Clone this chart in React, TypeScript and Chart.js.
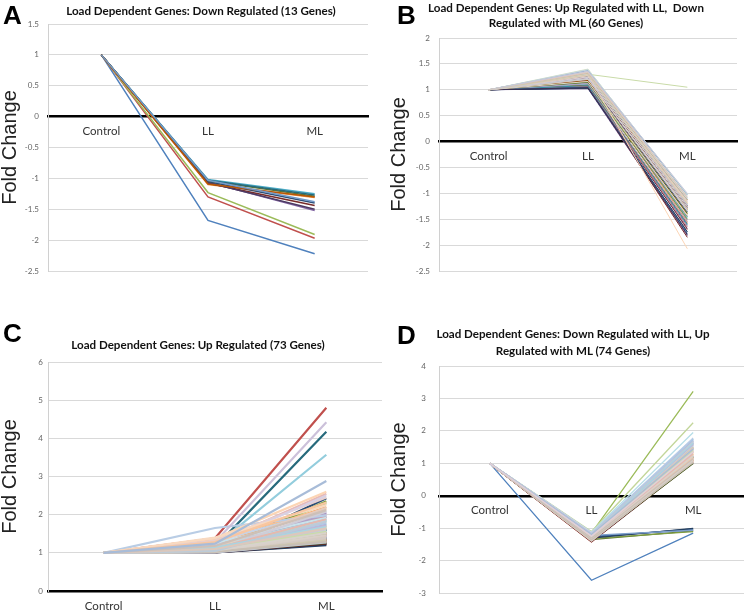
import React, { useEffect, useRef } from "react";
import { Chart, registerables } from "chart.js";

Chart.register(...registerables);

// ---------- data ----------
const categories = ["Control", "LL", "ML"];
const controlValue = 1;

// Panel A: Down Regulated (13 genes)
const aLL = [-1.68, -1.3, -1.23, -1.06, -1.02, -1.1, -1.05, -1.08, -1.04, -1.07, -1.03, -1.09, -1.03];
const aML = [-2.22, -1.97, -1.91, -1.52, -1.25, -1.31, -1.4, -1.44, -1.29, -1.5, -1.27, -1.3, -1.38];
const aRange = [-2.5, 1.5, 0.5];

// Panel B: Up with LL, Down with ML (60 genes)
const bLL = [1.05, 1.12, 1.08, 1.02, 1.15, 1.2, 1.03, 1.06, 1.1, 1.04, 1.18, 1.09, 1.13, 1.07, 1.22, 1.25, 1.11, 1.16, 1.05, 1.28, 1.14, 1.19, 1.08, 1.24, 1.32, 1.17, 1.21, 1.12, 1.27, 1.35, 1.03, 1.23, 1.15, 1.04, 1.26, 1.18, 1.38, 1.29, 1.3, 1.33, 1.36, 1.3, 1.31, 1.25, 1.4, 1.22, 1.34, 1.28, 1.37, 1.16, 1.32, 1.24, 1.39, 1.27, 1.35, 1.21, 1.33, 1.29, 1.36, 1.2];
const bML = [-1.62, -1.7, -1.38, -1.82, -1.48, -1.55, -1.75, -1.85, -1.32, -1.68, -1.45, -1.58, -1.28, -1.65, -1.42, -1.52, -1.35, -1.4, -1.78, -1.25, -1.5, -1.36, -1.6, -1.3, -1.22, -1.44, -1.33, -1.56, -1.2, -1.18, -1.74, -1.27, -1.39, -1.8, -1.24, -1.12, -1.1, -1.21, 1.05, -1.14, -1.08, -2.07, -1.17, -1.26, -1.05, -1.34, -1.11, -1.19, -1.03, -1.43, -1.13, -1.23, -1.02, -1.16, -1.07, -1.29, -1.09, -1.2, -1.0, -1.31];
const bRange = [-2.5, 2, 0.5];

// Panel C: Up Regulated (73 genes)
const cLL = [1.05, 1.38, 1.08, 1.02, 1.1, 1.12, 1.04, 1.01, 1.03, 1.02, 1.15, 1.06, 1.09, 1.07, 1.11, 1.05, 1.13, 1.2, 1.03, 1.02, 1.06, 1.04, 1.08, 1.1, 1.12, 1.22, 1.14, 1.16, 1.18, 1.35, 1.01, 1.02, 1.03, 1.05, 1.04, 1.07, 1.65, 1.25, 1.15, 1.28, 1.2, 1.38, 1.3, 1.32, 1.18, 1.22, 1.26, 1.4, 1.03, 1.02, 1.05, 1.08, 1.06, 1.15, 1.02, 1.01, 1.04, 1.03, 1.05, 1.07, 1.1, 1.12, 1.09, 1.08, 1.14, 1.28, 1.04, 1.03, 1.06, 1.05, 1.1, 1.18, 1.24];
const cML = [1.55, 4.8, 1.62, 1.3, 1.85, 1.7, 2.43, 1.22, 1.35, 1.25, 4.17, 1.28, 1.95, 1.45, 2.3, 2.05, 1.75, 2.2, 1.4, 1.32, 2.35, 1.48, 1.6, 1.52, 1.9, 1.95, 1.65, 2.0, 3.57, 2.15, 1.2, 1.24, 1.26, 1.38, 1.6, 1.34, 1.98, 2.55, 1.8, 4.42, 1.85, 2.6, 2.1, 2.45, 1.7, 2.5, 1.92, 2.25, 1.42, 1.3, 1.5, 2.08, 1.58, 2.18, 1.36, 1.27, 1.44, 1.33, 1.62, 1.4, 1.78, 1.88, 1.55, 1.72, 1.68, 2.32, 1.46, 1.29, 1.52, 1.82, 1.64, 2.12, 2.88];
const cRange = [0, 6, 1];

// Panel D: Down with LL, Up with ML (74 genes)
const dLL = [-2.6, -1.42, -1.15, -1.2, -1.18, -1.25, -1.28, -1.4, -1.35, -1.3, -1.22, -1.38, -1.16, -1.26, -1.2, -1.14, -1.17, -1.24, -1.25, -1.36, -1.32, -1.18, -1.21, -1.33, -1.13, -1.27, -1.1, -1.15, -1.19, -1.23, -1.3, -1.41, -1.37, -1.29, -1.24, -1.39, -1.14, -1.22, -1.26, -1.16, -1.12, -1.2, -1.13, -1.18, -1.28, -1.15, -1.21, -1.24, -1.22, -1.34, -1.31, -1.17, -1.19, -1.27, -1.33, -1.38, -1.36, -1.25, -1.23, -1.4, -1.16, -1.26, -1.2, -1.18, -1.21, -1.29, -1.32, -1.35, -1.28, -1.17, -1.22, -1.3, -1.19, -1.24];
const dML = [-1.15, 1.1, 3.22, 1.55, 1.65, 1.3, -1.02, 1.05, -1.08, 1.45, 1.2, 1.12, 1.7, 1.35, 1.5, 1.6, 1.75, 1.25, -1.05, 1.15, -1.1, 1.62, 1.4, 1.08, 1.72, 1.38, 2.25, 1.68, 1.58, 1.32, -1.0, 1.02, 1.0, 1.48, 1.22, 1.18, 1.78, 1.42, 1.28, 1.66, 1.95, 1.36, 1.52, 1.46, 1.14, 1.56, 1.44, 1.24, -1.06, 1.1, 1.2, 1.64, 1.54, 1.26, 1.16, 1.06, 1.04, 1.5, 1.34, 1.08, 1.74, 1.3, 1.4, 1.58, 1.62, 1.18, 1.12, 1.03, 1.22, 1.68, 1.48, 1.14, 1.44, 1.36];
const dRange = [-3, 4, 1];

// ---------- style ----------
const palette = [
  "#4F81BD", "#C0504D", "#9BBB59", "#8064A2", "#4BACC6", "#F79646",
  "#2C4D75", "#772C2A", "#5F7530", "#4D3B62", "#276A7C", "#B65708",
  "#729ACA", "#CD7371", "#AFC97A", "#9983B5", "#6FBDD1", "#F9AB6B",
  "#3A679C", "#9F3B38", "#7E9D40", "#664F83", "#358EA6", "#E0740C",
  "#95B3D7", "#D99694", "#C3D69B", "#B2A1C7", "#93CDDD", "#FAC090",
  "#254061", "#632523", "#4F6228", "#403152", "#215968", "#984807",
  "#B9CDE5", "#E6B9B8", "#C9DBA8", "#CCC1DA", "#B7DEE8", "#FCD5B5",
  "#C6D3E6", "#E8CFCD", "#D8E4C4", "#D9D0E3", "#C8E3EC", "#F8D9C0",
  "#7FA0CC", "#DDD9C3", "#C4BD97", "#D0CDD8", "#C5D5DD", "#E4CBBE",
  "#D6C8C8", "#BFC8D6", "#E0C4B8", "#CFC9B0", "#C8C8D8", "#D4CBC4",
  "#B4C7E7", "#E4B9B0", "#C9DCA8", "#C2B6D6", "#A9D5E2", "#F8C6A0",
  "#D9D0C8", "#C8BFB4", "#D8D2CC", "#BCCBD8", "#DCC8BC", "#CDC0B8",
  "#A8BCD8", "#E0D0D8",
];

type PanelProps = {
  left: number; top: number; width: number; height: number;
  pad: { left: number; top: number; right: number; bottom: number };
  yWidth: number; range: number[]; tickPad: number;
  ll: number[]; ml: number[]; lineWidth: number;
};

function Panel(p: PanelProps) {
  const ref = useRef<HTMLCanvasElement>(null);
  useEffect(() => {
    const datasets = p.ll.map((v, i) => ({
      data: [controlValue, v, p.ml[i]],
      borderColor: palette[i % palette.length],
      backgroundColor: palette[i % palette.length],
      borderWidth: p.lineWidth,
      pointRadius: 0,
      tension: 0,
      fill: false,
      order: -i,
    }));
    const chart = new Chart(ref.current as HTMLCanvasElement, {
      type: "line",
      data: { labels: categories, datasets },
      options: {
        animation: false,
        responsive: true,
        maintainAspectRatio: false,
        layout: { padding: p.pad },
        plugins: { legend: { display: false }, tooltip: { enabled: false } },
        scales: {
          x: {
            type: "category",
            offset: true,
            position: { y: 0 } as any,
            grid: { display: false, drawTicks: false },
            border: { display: true, color: "#000", width: 2.5 },
            ticks: { font: { family: "Lato", size: 11.5 }, color: "#333", padding: 8, maxRotation: 0, autoSkip: false },
          },
          y: {
            min: p.range[0],
            max: p.range[1],
            ticks: {
              stepSize: p.range[2],
              callback: (v: any) => String(v),
              font: { family: "Lato", size: 8 },
              color: "#666",
              padding: p.tickPad,
            },
            grid: { color: "#d9d9d9", lineWidth: 1, drawTicks: false },
            border: { display: true, color: "#d0d0d0", width: 1 },
            title: {
              display: true,
              text: "Fold Change",
              font: { family: "Liberation Sans", size: 20, lineHeight: 1 },
              color: "#222",
              padding: 0,
            },
            afterFit: (s: any) => { s.width = p.yWidth; },
          },
        },
      },
    });
    return () => chart.destroy();
  }, []);
  return (
    <div style={{ position: "absolute", left: p.left, top: p.top, width: p.width, height: p.height }}>
      <canvas ref={ref} />
    </div>
  );
}

const letterStyle: React.CSSProperties = {
  position: "absolute", fontFamily: "Liberation Sans", fontWeight: "bold", fontSize: 26, lineHeight: "26px", color: "#000",
};
const titleStyle: React.CSSProperties = {
  position: "absolute", fontFamily: "Lato", fontWeight: "bold", fontSize: 11.6, color: "#111",
  textAlign: "center", whiteSpace: "pre", width: 400,
};

export default function App() {
  return (
    <div style={{ position: "absolute", left: 0, top: 0, width: 744, height: 611, overflow: "hidden", background: "#fff" }}>
      <Panel left={0} top={0} width={372} height={300} pad={{ left: 0, top: 24, right: 4, bottom: 29 }} yWidth={48} range={aRange} tickPad={9} ll={aLL} ml={aML} lineWidth={1.5} />
      <Panel left={372} top={0} width={372} height={300} pad={{ left: 17, top: 38, right: 7, bottom: 29 }} yWidth={50} range={bRange} tickPad={9} ll={bLL} ml={bML} lineWidth={1} />
      <Panel left={0} top={300} width={386} height={311} pad={{ left: 0, top: 62, right: 4, bottom: 20 }} yWidth={48} range={cRange} tickPad={5} ll={cLL} ml={cML} lineWidth={2.2} />
      <Panel left={372} top={300} width={372} height={311} pad={{ left: 17, top: 66, right: 0, bottom: 13 }} yWidth={50} range={dRange} tickPad={13} ll={dLL} ml={dML} lineWidth={1.3} />

      <div style={{ ...letterStyle, left: 3, top: 1.5 }}>A</div>
      <div style={{ ...letterStyle, left: 397, top: 1.5 }}>B</div>
      <div style={{ ...letterStyle, left: 3, top: 320 }}>C</div>
      <div style={{ ...letterStyle, left: 397, top: 322 }}>D</div>

      <div style={{ ...titleStyle, left: 201 - 200, top: 4, lineHeight: "14px" }}>Load Dependent Genes: Down Regulated (13 Genes)</div>
      <div style={{ ...titleStyle, left: 566 - 200, top: -0.5, lineHeight: "15px" }}>{"Load Dependent Genes: Up Regulated with LL,  Down\nRegulated with ML (60 Genes)"}</div>
      <div style={{ ...titleStyle, left: 198 - 200, top: 338, lineHeight: "14px" }}>Load Dependent Genes: Up Regulated (73 Genes)</div>
      <div style={{ ...titleStyle, left: 573 - 200, top: 324.5, lineHeight: "17px" }}>{"Load Dependent Genes: Down Regulated with LL, Up\nRegulated with ML (74 Genes)"}</div>
    </div>
  );
}
